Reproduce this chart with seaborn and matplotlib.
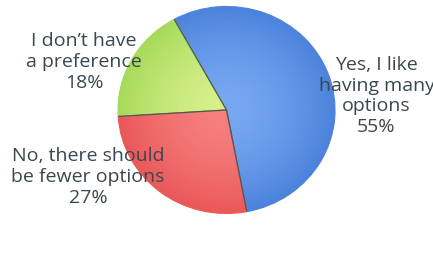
import numpy as np
import matplotlib
matplotlib.use('Agg')
import matplotlib.pyplot as plt
import seaborn as sns

labels = ['Yes, I like\nhaving many\noptions', 'I don\u2019t have\na preference', 'No, there should\nbe fewer options']
shares = [55, 18, 27]
inner_colors = ['#78a8f2', '#d8f08c', '#f78080']
outer_colors = ['#4c82dc', '#a6da5a', '#ea5858']

sns.set_theme(style='white')
plt.rcParams['font.family'] = ['Open Sans', 'DejaVu Sans']

fig = plt.figure(figsize=(4.33, 2.54), dpi=100)
ax = fig.add_axes([0.2475, 0.1049, 0.5513, 0.8965])

wedges, _ = ax.pie(shares, startangle=-79.2, colors=outer_colors, center=(0, 0.034),
                   wedgeprops=dict(linewidth=0))

# radial gradient inside each slice
yy, xx = np.mgrid[-1.1:1.1:300j, -1.1:1.1:300j]
rr = np.clip(np.hypot(xx, yy - 0.034), 0, 1)[..., None] ** 1.6
for w, c_in, c_out in zip(wedges, inner_colors, outer_colors):
    a = np.array(matplotlib.colors.to_rgb(c_in))
    b = np.array(matplotlib.colors.to_rgb(c_out))
    img = a * (1 - rr) + b * rr
    im = ax.imshow(img, extent=(-1.1, 1.1, -1.1, 1.1), origin='lower', zorder=w.get_zorder() - 0.1)
    im.set_clip_path(w)
    w.set_facecolor('none')
    w.set_edgecolor(c_out)
    w.set_linewidth(0.8)

# dark separators between slices
for w in wedges:
    t = np.deg2rad(w.theta1)
    cx, cy = w.center
    ax.plot([cx, cx + w.r * np.cos(t)], [cy, cy + w.r * np.sin(t)],
            color='#4e5a50', lw=0.9, solid_capstyle='butt', zorder=5)

ax.set_aspect('auto')
ax.set_xlim(-1.1, 1.1)
ax.set_ylim(-1.1, 1.1)
ax.axis('off')

text_color = '#3a474f'
pos = [(376.5, 96), (84, 62), (88, 177)]
for lab, s, (px, py) in zip(labels, shares, pos):
    fig.text(px / 433, 1 - py / 254, f'{lab}\n{s}%', ha='center', va='center',
             fontsize=14, color=text_color, linespacing=1.18)

fig.savefig('out.png', dpi=100)
